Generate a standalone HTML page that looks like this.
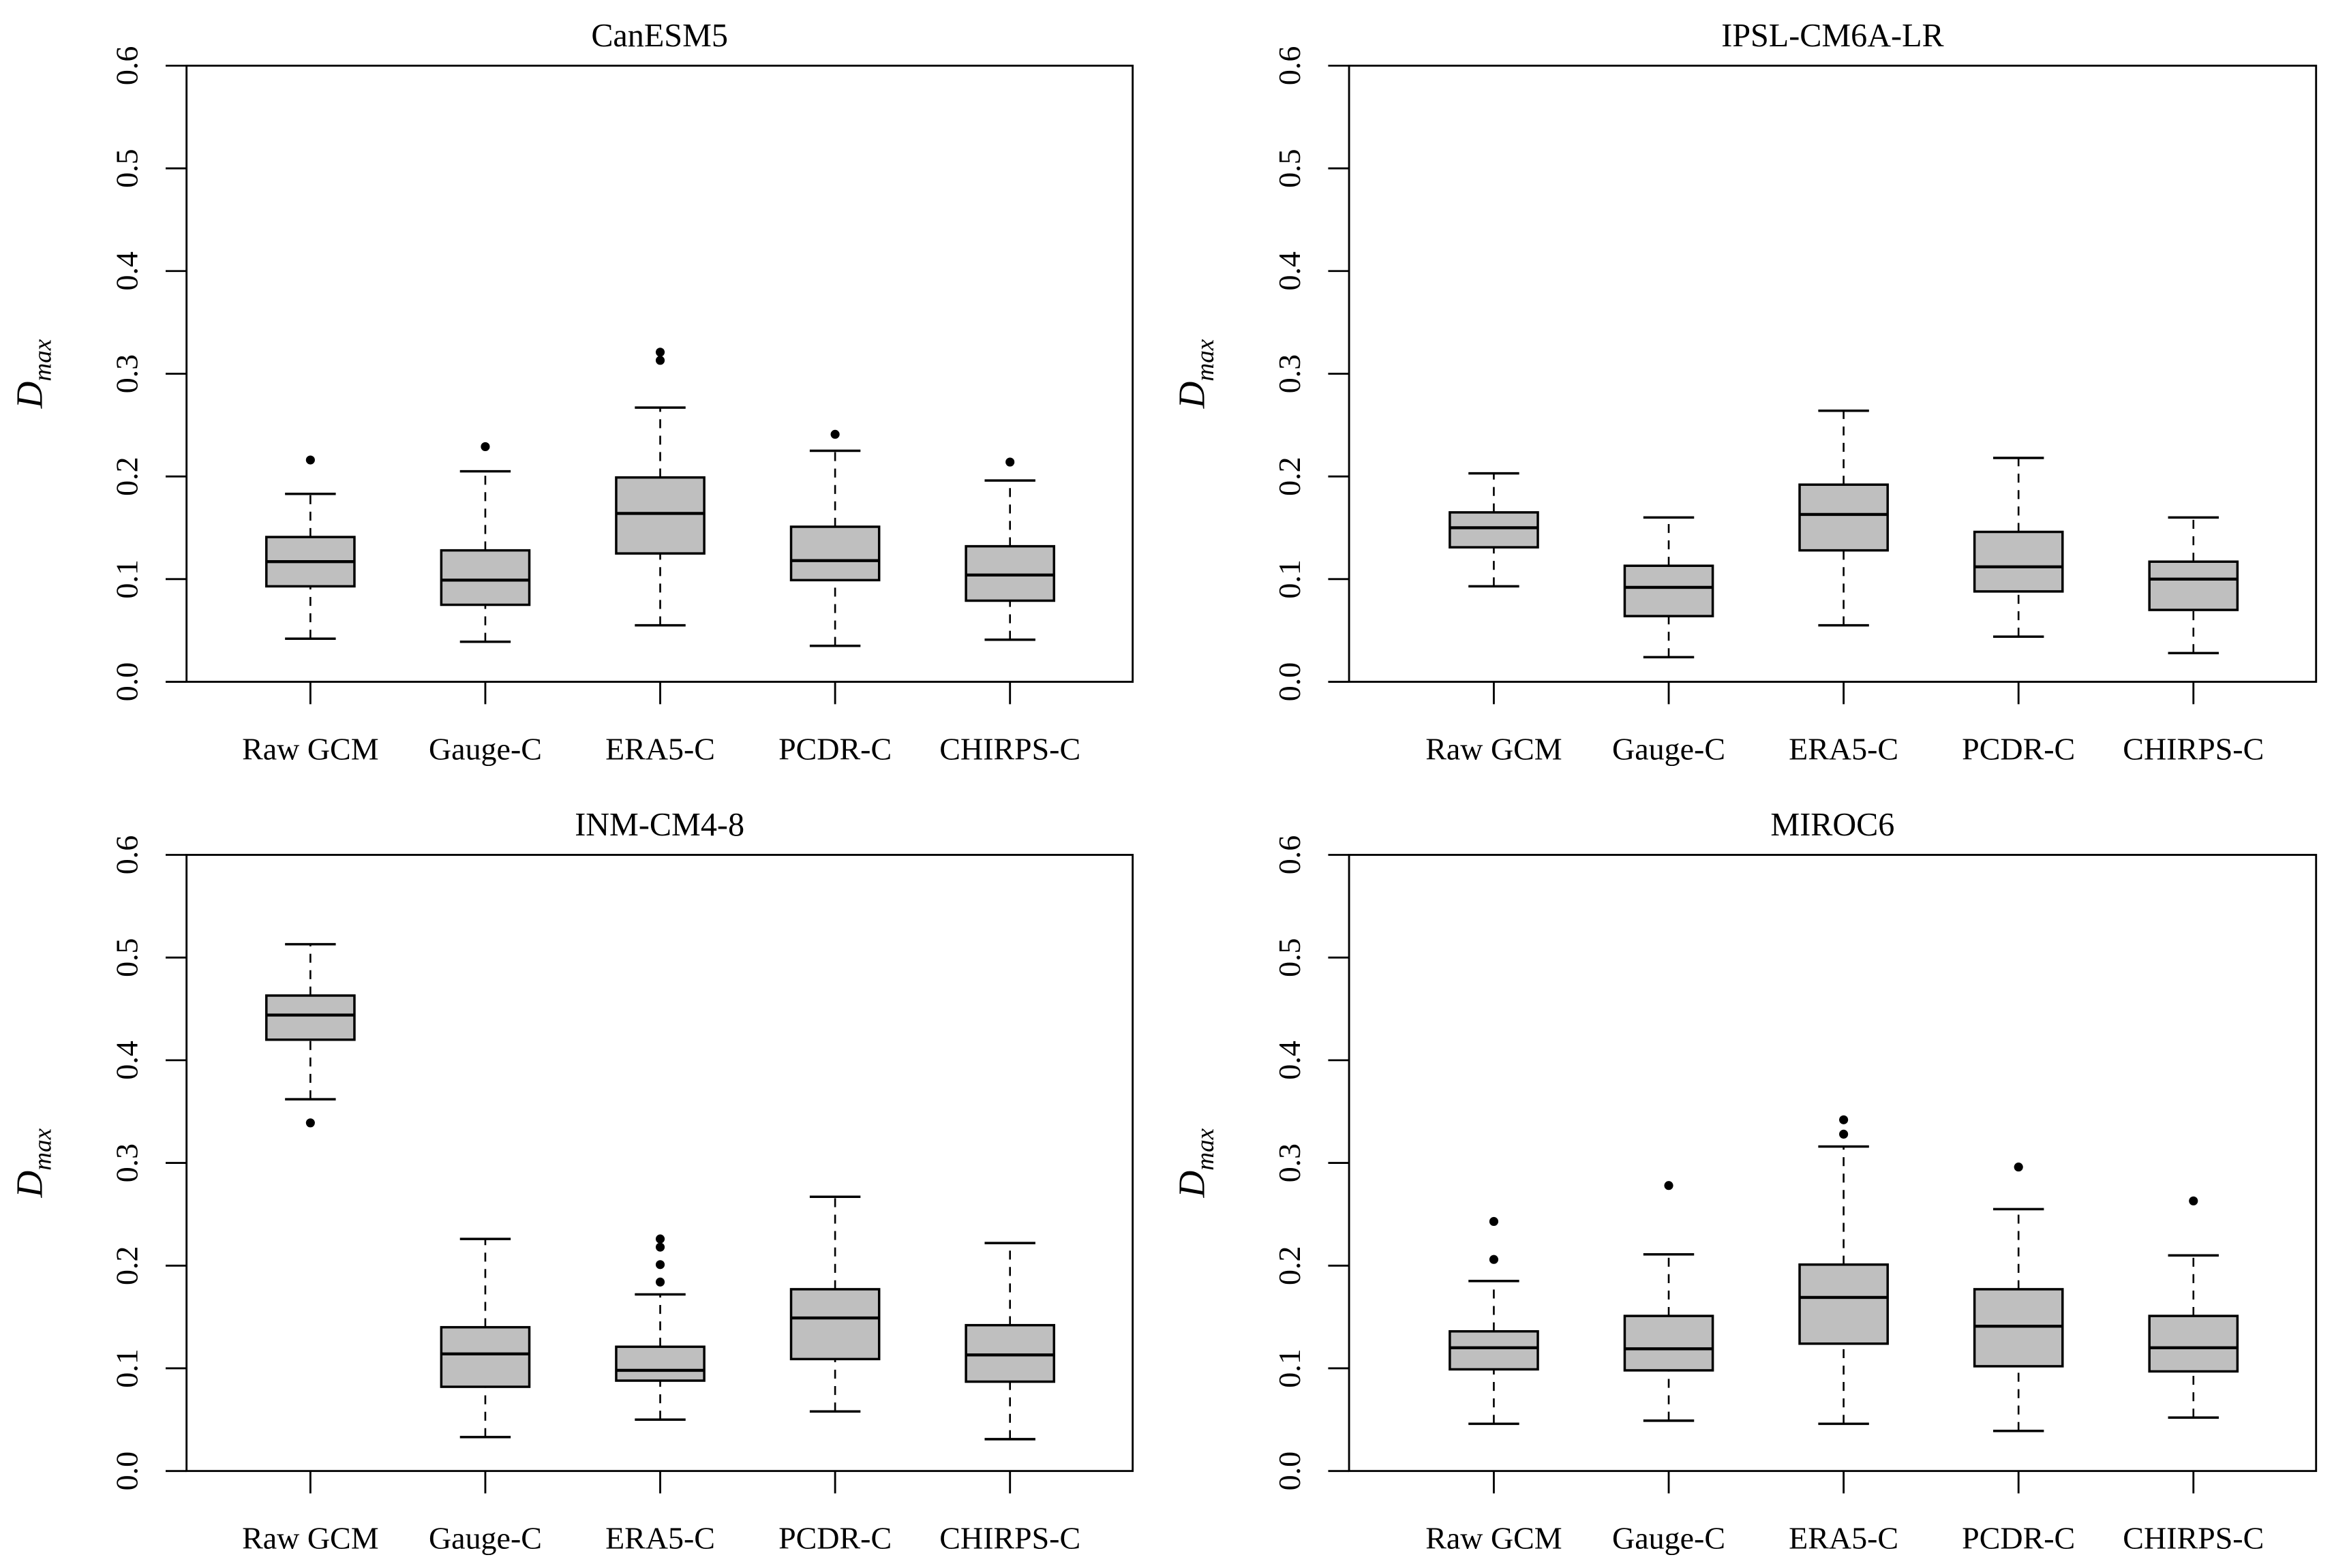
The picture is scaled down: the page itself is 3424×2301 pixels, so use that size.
<!DOCTYPE html>
<html><head><meta charset="utf-8"><style>
html,body{margin:0;padding:0;background:#fff}
svg{display:block}
text{font-family:"Liberation Serif",serif;fill:#000}
</style></head>
<body>
<svg id="chart" width="3424" height="2301" viewBox="0 0 1564 1051" xmlns="http://www.w3.org/2000/svg"></svg>
<script>
const categories = ["Raw GCM","Gauge-C","ERA5-C","PCDR-C","CHIRPS-C"];
const yTicks = [0.0,0.1,0.2,0.3,0.4,0.5,0.6];
const yTickLabels = ["0.0","0.1","0.2","0.3","0.4","0.5","0.6"];
const modelNames = ["CanESM5","IPSL-CM6A-LR","INM-CM4-8","MIROC6"];
// each stat: [lowerWhisker, q1, median, q3, upperWhisker]
const canesm5Stats = [[.042,.093,.117,.141,.183],[.039,.075,.099,.128,.205],[.055,.125,.164,.199,.267],[.035,.099,.118,.151,.225],[.041,.079,.104,.132,.196]];
const canesm5Outliers = [[.216],[.229],[.313,.321],[.241],[.214]];
const ipslStats = [[.093,.131,.150,.165,.203],[.024,.064,.092,.113,.160],[.055,.128,.163,.192,.264],[.044,.088,.112,.146,.218],[.028,.070,.100,.117,.160]];
const ipslOutliers = [[],[],[],[],[]];
const inmStats = [[.362,.420,.444,.463,.513],[.033,.082,.114,.140,.226],[.050,.088,.098,.121,.172],[.058,.109,.149,.177,.267],[.031,.087,.113,.142,.222]];
const inmOutliers = [[.339],[],[.184,.201,.218,.226],[],[]];
const mirocStats = [[.046,.099,.120,.136,.185],[.049,.098,.119,.151,.211],[.046,.124,.169,.201,.316],[.039,.102,.141,.177,.255],[.052,.097,.120,.151,.210]];
const mirocOutliers = [[.206,.243],[.278],[.328,.342],[.296],[.263]];

const allStats=[canesm5Stats,ipslStats,inmStats,mirocStats];
const allOut=[canesm5Outliers,ipslOutliers,inmOutliers,mirocOutliers];
const NS="http://www.w3.org/2000/svg";
const svg=document.getElementById('chart');
function mk(tag,attrs,parent){const e=document.createElementNS(NS,tag);for(const k in attrs)e.setAttribute(k,attrs[k]);(parent||svg).appendChild(e);return e;}
const panels=[{l:125,r:759,t:44,b:457,x0:208},{l:904,r:1552,t:44,b:457,x0:1001},{l:125,r:759,t:573,b:986,x0:208},{l:904,r:1552,t:573,b:986,x0:1001}];
panels.forEach((p,pi)=>{
  const g=mk('g',{});
  
  
  const yS=v=>p.b-(v/0.6)*(p.b-p.t);
  const step=117.2;
  const xS=i=>p.x0+step*i;
  const fr=mk('rect',{x:p.l,y:p.t,width:p.r-p.l,height:p.b-p.t,fill:'none',stroke:'#000','stroke-width':1.3},g);
  
  
  const tt=mk('text',{x:(p.l+p.r)/2,y:p.t-13,'text-anchor':'middle','font-size':22},g);
  tt.textContent=modelNames[pi];
  
  
  yTicks.forEach((v,i)=>{
    const y=yS(v);
    mk('line',{x1:p.l-14,x2:p.l,y1:y,y2:y,stroke:'#000','stroke-width':1.3},g);
    const t=mk('text',{x:0,y:0,transform:`translate(${p.l-33},${y}) rotate(-90)`,'text-anchor':'middle','font-size':21},g);
    t.textContent=yTickLabels[i];
    
    
  });
  const yl=mk('text',{x:0,y:0,transform:`translate(${p.l-97},${(p.t+p.b)/2}) rotate(-90)`,'text-anchor':'middle','font-size':25,'font-style':'italic'},g);
  yl.innerHTML='D<tspan font-size="17" dy="6">max</tspan>';
  
  
  categories.forEach((c,i)=>{
    const x=xS(i), s=allStats[pi][i];
    mk('line',{x1:x,x2:x,y1:p.b,y2:p.b+15,stroke:'#000','stroke-width':1.3},g);
    const lt=mk('text',{x:x,y:p.b+52,'text-anchor':'middle','font-size':21},g);
    lt.textContent=c;
    
    
    const bg=mk('g',{},g);
    
    
    const bw=29.5,cw=17;
    mk('line',{x1:x,x2:x,y1:yS(s[0]),y2:yS(s[1]),stroke:'#000','stroke-width':1.2,'stroke-dasharray':'6,5'},bg);
    mk('line',{x1:x,x2:x,y1:yS(s[3]),y2:yS(s[4]),stroke:'#000','stroke-width':1.2,'stroke-dasharray':'6,5'},bg);
    mk('line',{x1:x-cw,x2:x+cw,y1:yS(s[0]),y2:yS(s[0]),stroke:'#000','stroke-width':1.6},bg);
    mk('line',{x1:x-cw,x2:x+cw,y1:yS(s[4]),y2:yS(s[4]),stroke:'#000','stroke-width':1.6},bg);
    mk('rect',{x:x-bw,y:yS(s[3]),width:2*bw,height:yS(s[1])-yS(s[3]),fill:'#bfbfbf',stroke:'#000','stroke-width':1.6},bg);
    mk('line',{x1:x-bw,x2:x+bw,y1:yS(s[2]),y2:yS(s[2]),stroke:'#000','stroke-width':2},bg);
    allOut[pi][i].forEach(o=>{
      const d=mk('circle',{cx:x,cy:yS(o),r:3,fill:'#000'},bg);
      
      
    });
  });
});
</script>
</body></html>
